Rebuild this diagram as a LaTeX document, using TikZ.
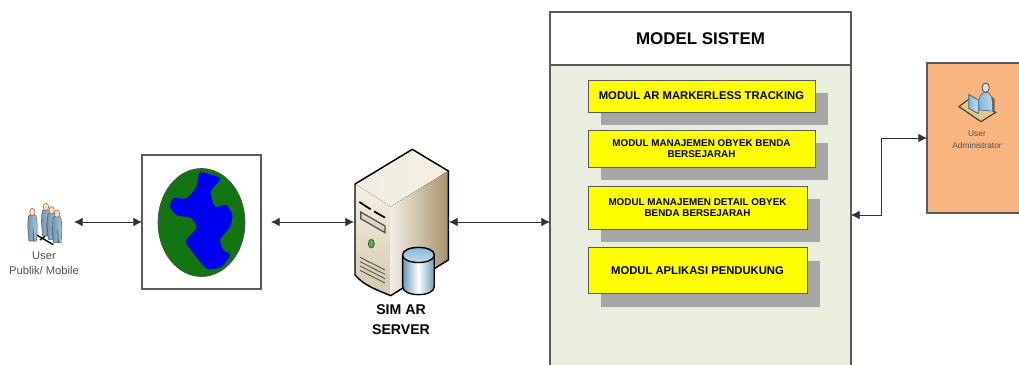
\documentclass[tikz,border=0pt]{standalone}
\usepackage{fontspec}
\setmainfont{Liberation Sans}
\usetikzlibrary{arrows.meta,patterns,shadows}
\definecolor{bodygreen}{HTML}{EAEEDF}
\definecolor{adminorange}{HTML}{F9B57F}
\definecolor{shadowgray}{HTML}{A6A6A6}
\definecolor{edgegray}{HTML}{5A5A5A}
\definecolor{labelgray}{HTML}{505050}
\definecolor{globegreen}{HTML}{0A7A0A}
\definecolor{globeblue}{HTML}{0000F0}
\definecolor{modulyellow}{HTML}{FFFF00}
\definecolor{serverlight}{HTML}{F5F0E2}
\definecolor{servermid}{HTML}{DCD1B8}
\definecolor{servertan}{HTML}{A8946C}
\definecolor{iconblue}{HTML}{7FB2D6}
\definecolor{icondark}{HTML}{3C6482}
\definecolor{desktan}{HTML}{E0C888}
\tikzset{
  modulbox/.style={draw=black!65,fill=modulyellow,line width=0.7pt,outer sep=0pt,inner sep=1pt,
    align=center,font=\bfseries,
    general shadow={fill=shadowgray,shadow xshift=9.4pt,shadow yshift=-10pt}},
  framebox/.style={draw=edgegray,line width=0.8pt,outer sep=0pt,inner sep=0pt},
  iconbox/.style={outer sep=0pt,inner sep=0pt},
  link/.style={<->,>={Latex[length=6.5pt,width=6.5pt]},line width=0.6pt,draw=black!80},
}
\begin{document}
\begin{tikzpicture}[x=0.75pt,y=-0.75pt]
\clip (0,0) rectangle (1019,364);
% main model box
\node[framebox,fill=bodygreen,minimum width=225.75pt,minimum height=228.75pt] (modelbody) at (700.5,217.5) {};
\node[framebox,fill=white,minimum width=225.75pt,minimum height=39.75pt,font=\bfseries\fontsize{12.7}{15}\selectfont] (modeltitle) at (700.5,38.5) {MODEL SISTEM};
\node[modulbox,minimum width=170.25pt,minimum height=24pt,font=\bfseries\fontsize{8.45}{10}\selectfont] (modulA) at (701.5,96) {MODUL AR MARKERLESS TRACKING};
\node[modulbox,minimum width=170.25pt,minimum height=27.75pt,font=\bfseries\fontsize{7.4}{8.3}\selectfont] (modulB) at (701.5,148.5) {MODUL MANAJEMEN OBYEK BENDA\\BERSEJARAH};
\node[modulbox,minimum width=164.25pt,minimum height=32.25pt,font=\bfseries\fontsize{7.4}{8.3}\selectfont] (modulC) at (697.5,207.5) {MODUL MANAJEMEN DETAIL OBYEK\\BENDA BERSEJARAH};
\node[modulbox,minimum width=164.25pt,minimum height=34.5pt,font=\bfseries\fontsize{8.45}{10}\selectfont] (modulD) at (697.5,270.5) {MODUL APLIKASI PENDUKUNG};
% admin
\node[framebox,fill=adminorange,minimum width=85.5pt,minimum height=112.5pt] (adminbox) at (984,138) {};
\node[text=labelgray,align=center,font=\fontsize{6.3}{9}\selectfont] (adminlabel) at (977,140) {User\\Administrator};
\begin{scope}[shift={(840,55)},scale=0.3333]
\fill[brown!70!black] (456,125) -- (464,133) -- (464,165) -- (456,170) -- cycle;
\draw[black!85,fill=desktan,line width=0.7pt] (357,155) -- (392,128) -- (467,172) -- (423,200) -- cycle;
\draw[icondark,left color=iconblue,right color=iconblue!50,line width=0.4pt] (418,165) .. controls (412,125) and (425,110) .. (438,112) .. controls (455,112) and (458,130) .. (458,168) -- cycle;
\draw[black!70,fill=white!75!gray,line width=0.6pt] (437,98) ellipse [x radius=11,y radius=14];
\draw[icondark,left color=iconblue,right color=iconblue!40,line width=0.6pt] (386,118) -- (415,135) -- (415,176) -- (386,160) -- cycle;
\end{scope}
% globe
\node[framebox,fill=white,minimum width=89.25pt,minimum height=100.5pt] (globebox) at (201.5,222) {};
\fill[globegreen] (201.5,222.5) ellipse [x radius=43.5,y radius=54];
\draw[black!70,pattern=crosshatch dots,pattern color=black!70,line width=0.5pt] (201.5,222.5) ellipse [x radius=43.5,y radius=54];
\begin{scope}[shift={(0,140)},scale=0.3333]
\fill[globeblue] plot[smooth cycle,tension=0.35] coordinates {(600,97) (660,115) (632,155) (645,200) (680,195) (697,225) (690,260) (660,300) (670,330) (690,345) (665,380) (625,388) (600,365) (558,305) (590,265) (575,235) (530,225) (510,200) (520,175) (560,175) (590,140)};
\end{scope}
% user publik
\begin{scope}[shift={(0,140)},scale=0.3333]
\draw[black,line width=1pt] (110,285) -- (160,314) (120,300) -- (135,289);
\foreach \px/\py in {97/205,138/190,155/200,171/210}{
\draw[icondark,left color=icondark!70,right color=iconblue!70,line width=0.4pt,shift={(\px,\py)}] (-11,22) .. controls (-15,45) and (-14,60) .. (-10,98) -- (3,98) -- (2,60) -- (5,98) -- (12,98) .. controls (16,60) and (15,40) .. (11,22) .. controls (6,18) and (-6,18) .. (-11,22) -- cycle;
\draw[brown!80!black,fill=orange!25,line width=0.4pt] (\px,\py+11) ellipse [x radius=8,y radius=11];
}
\end{scope}
\node[iconbox,minimum width=36pt,minimum height=40pt] (usericon) at (50,222) {};
\node[text=labelgray,align=center,font=\fontsize{8.4}{11.4}\selectfont] (userlabel) at (44,263) {User\\Publik/ Mobile};
% server
\node[iconbox,minimum width=71.25pt,minimum height=110pt] (serverbox) at (401.5,222) {};
\begin{scope}[shift={(330,140)},scale=0.3333]
\fill[left color=white!60!servermid,right color=serverlight] (75,132) -- (247,28) -- (355,93) -- (182,200) -- cycle;
\fill[top color=serverlight,bottom color=servermid!85!servertan] (75,132) -- (182,200) -- (182,467) .. controls (140,450) and (100,435) .. (75,405) -- cycle;
\fill[left color=servermid!40!white,right color=servertan] (182,200) -- (355,93) -- (355,360) -- (182,467) -- cycle;
\draw[black,line width=1.1pt,line join=round] (75,132) -- (247,28) -- (355,93) -- (355,360) -- (182,467) .. controls (140,450) and (100,435) .. (75,405) -- cycle;
\draw[black,line width=1.3pt] (88,186) -- (122,208) (132,214) -- (165,233);
\draw[black!70,fill=white!60!servertan,line width=0.9pt] (92,216) -- (165,258) -- (165,278) -- (92,236) -- cycle;
\draw[black!70,fill=green!45!gray,line width=0.6pt] (124,311) ellipse [x radius=9,y radius=13];
\foreach \ly in {0,13,26,39}{
\draw[black!65,line width=0.7pt] (90,352+\ly) -- (165,390+\ly);
}
\draw[black,line width=1pt,left color=iconblue!85!black,right color=iconblue!85!black,middle color=white] (218,345) -- (218,440) .. controls (218,472) and (313,472) .. (313,440) -- (313,345) .. controls (313,315) and (218,315) .. (218,345) -- cycle;
\draw[black,line width=1pt,top color=iconblue,bottom color=iconblue!40] (218,345) .. controls (218,315) and (313,315) .. (313,345) .. controls (313,375) and (218,375) .. (218,345) -- cycle;
\end{scope}
\node[align=center,font=\bfseries\fontsize{10.6}{15}\selectfont] (serverlabel) at (401,320) {SIM AR\\SERVER};
% connectors
\coordinate (globeport) at (271,222);
\coordinate (modelport) at (851,215);
\draw[link] (usericon.east) -- (globebox.west);
\draw[link] (globeport) -- (serverbox.west);
\draw[link] (serverbox.east) -- (serverbox.east -| modelbody.west);
\draw[link] (modelport) -- ++(30,0) |- (adminbox.west);
\end{tikzpicture}
\end{document}
